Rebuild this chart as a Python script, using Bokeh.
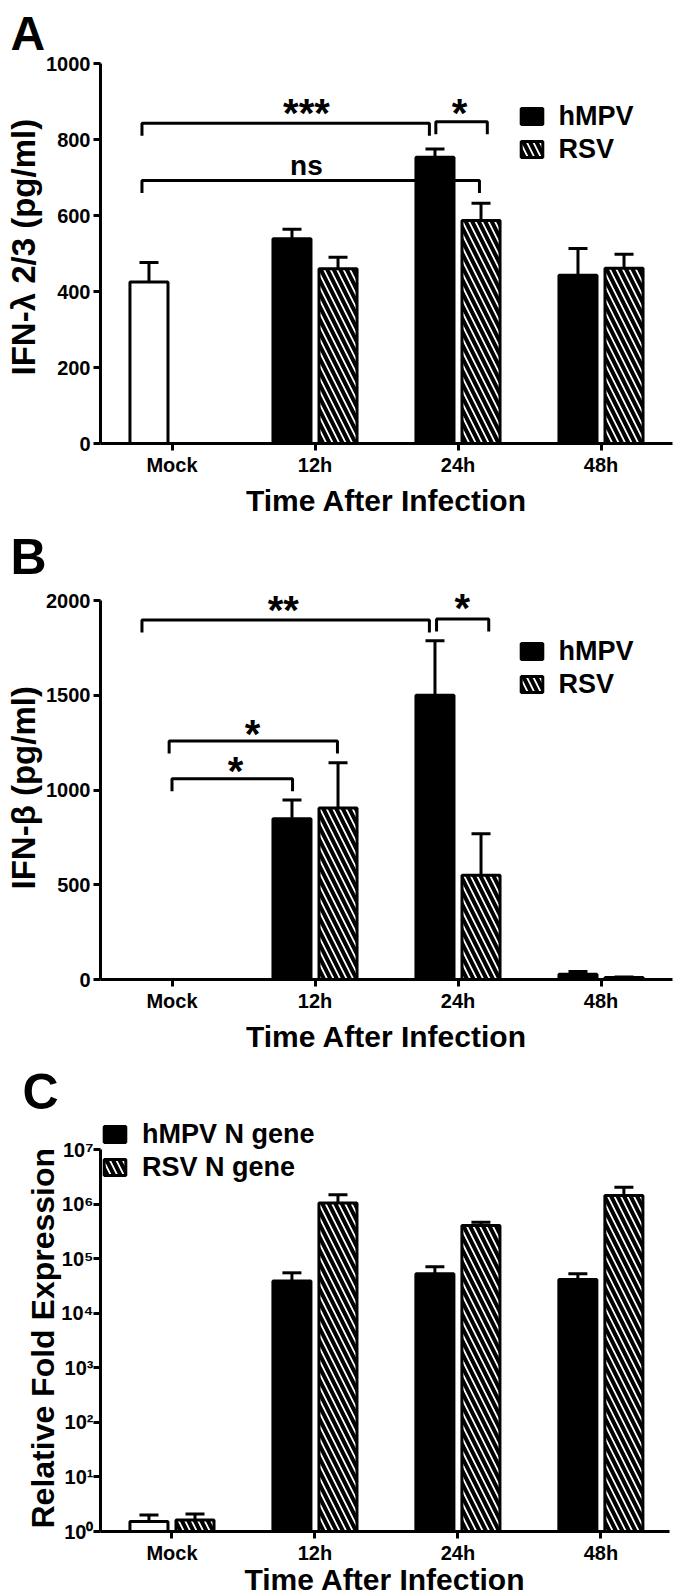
import numpy as np
from bokeh.plotting import figure
from bokeh.models import (ColumnDataSource, Whisker, TeeHead, FixedTicker, Legend,
                          LegendItem, Title, Range1d, CustomJSTickFormatter)
from bokeh.layouts import column
from bokeh.core.properties import value
from bokeh.embed import file_html
from bokeh.resources import INLINE

FONT = "Liberation Sans"

# ---------------- data ----------------
groups = ["Mock", "12h", "24h", "48h"]

# Panel A : IFN-lambda 2/3 (pg/ml)
a_mock_mean = [425]
a_mock_sem = [51]
a_hmpv_mean = [539, 753, 443]
a_hmpv_sem = [25, 22, 70]
a_rsv_mean = [460, 587, 461]
a_rsv_sem = [30, 45, 37]
a_yticks = [0, 200, 400, 600, 800, 1000]
a_sig_labels = ["***", "ns", "*"]
a_sig_left = [-0.21, -0.21, 1.845]
a_sig_right = [1.80, 2.15, 2.205]
a_sig_level = [843, 692, 847]
a_sig_text_x = [0.94, 0.94, 2.01]
a_sig_text_y = [871, 732, 869]

# Panel B : IFN-beta (pg/ml)
b_hmpv_mean = [848, 1500, 28]
b_hmpv_sem = [99, 288, 14]
b_rsv_mean = [905, 550, 10]
b_rsv_sem = [239, 219, 3]
b_yticks = [0, 500, 1000, 1500, 2000]
b_sig_labels = ["**", "*", "*", "*"]
b_sig_left = [-0.21, 1.85, -0.02, 0.0]
b_sig_right = [1.80, 2.215, 1.157, 0.843]
b_sig_level = [1897, 1903, 1259, 1060]
b_sig_text_x = [0.778, 2.03, 0.563, 0.444]
b_sig_text_y = [1950, 1963, 1297, 1100]

# Panel C : Relative fold expression (log)
c_mock_mean = [1.52, 1.63]
c_mock_sem = [0.48, 0.47]
c_hmpv_mean = [39000, 53000, 41500]
c_hmpv_sem = [16000, 18000, 11500]
c_rsv_mean = [1.05e6, 4.03e5, 1.44e6]
c_rsv_sem = [0.43e6, 0.63e5, 0.60e6]
c_yticks = [1, 10, 100, 1000, 10000, 100000, 1000000, 10000000]
c_ytick_labels = ["10\u2070", "10\u00b9", "10\u00b2", "10\u00b3", "10\u2074",
                  "10\u2075", "10\u2076", "10\u2077"]

OFF = 0.161
BW = 0.266
HATCH = dict(hatch_pattern="left_diagonal_line", hatch_color="black",
             hatch_weight=4, hatch_scale=13)


def make_fig(x_end, fw, fh, yrange, left, right, top, bottom, log=False):
    kw = dict(y_axis_type="log") if log else {}
    p = figure(frame_width=fw, frame_height=fh, x_range=Range1d(-0.5, x_end),
               y_range=Range1d(*yrange), output_backend="svg", toolbar_location=None,
               min_border_left=left, min_border_right=right, min_border_top=top,
               min_border_bottom=bottom, **kw)
    p.outline_line_color = None
    p.xgrid.visible = False
    p.ygrid.visible = False
    p.background_fill_color = "white"
    p.border_fill_color = "white"
    for ax in (p.xaxis[0], p.yaxis[0]):
        ax.axis_line_width = 3
        ax.axis_line_color = "black"
        ax.major_tick_line_width = 3
        ax.major_tick_line_color = "black"
        ax.major_tick_out = 7
        ax.major_tick_in = 0
        ax.minor_tick_line_color = None
        ax.major_label_text_font = FONT
        ax.major_label_text_font_style = "bold"
        ax.major_label_text_font_size = "20px"
        ax.major_label_text_color = "black"
        ax.major_label_standoff = 3
        ax.axis_label_text_font = FONT
        ax.axis_label_text_font_style = "bold"
        ax.axis_label_text_color = "black"
    p.xaxis.ticker = FixedTicker(ticks=list(range(len(groups))))
    p.xaxis.major_label_overrides = {i: g for i, g in enumerate(groups)}
    p.xaxis.axis_label = "Time After Infection"
    p.xaxis.axis_label_text_font_size = "30px"
    p.xaxis.axis_label_standoff = 5
    return p


def add_letter(p, letter, size, offset, standoff):
    p.title.text = letter
    p.title.align = "left"
    p.title.offset = offset
    p.title.standoff = standoff
    p.title.vertical_align = "bottom"
    p.title.text_font = FONT
    p.title.text_font_style = "bold"
    p.title.text_font_size = size
    p.title.text_color = "black"


def add_ylabel(p, text, size, offset, standoff):
    p.add_layout(Title(text=text, align="left", offset=offset, standoff=standoff,
                       vertical_align="bottom", text_font=FONT, text_font_style="bold",
                       text_font_size=size, text_color="black"), "left")


def add_bars(p, xs, means, sems, base, fill, hatch=False):
    xs = list(xs)
    means = list(means)
    upper = [m + s for m, s in zip(means, sems)]
    src = ColumnDataSource(dict(x=xs, top=means, upper=upper))
    extra = HATCH if hatch else {}
    r = p.vbar(x="x", top="top", bottom=base, width=BW, source=src, fill_color=fill,
               line_color="black", line_width=3, **extra)
    w = Whisker(base="x", lower="top", upper="upper", source=src, dimension="height",
                line_width=3, line_color="black", lower_head=None,
                upper_head=TeeHead(size=19, line_width=3, line_color="black"))
    p.add_layout(w)
    return r


def add_brackets(p, left, right, level, leg, labels, tx, ty):
    xs, ys = [], []
    for l, r, y in zip(left, right, level):
        xs.append([l, l, r, r])
        ys.append([y - leg, y, y, y - leg])
    p.multi_line(xs, ys, line_color="black", line_width=3)
    sizes = ["28px" if t == "ns" else "40px" for t in labels]
    src = ColumnDataSource(dict(x=tx, y=ty, t=labels, s=sizes))
    p.text(x="x", y="y", text="t", source=src, text_font=value(FONT),
           text_font_style="bold", text_font_size="s", text_align="center",
           text_baseline="alphabetic", text_color="black")


def add_legend(p, items, loc):
    lg = Legend(items=[LegendItem(label=t, renderers=[r]) for t, r in items],
                location=loc, glyph_width=27, glyph_height=20, label_standoff=14,
                spacing=2, padding=0, margin=0, border_line_color=None,
                background_fill_alpha=0, label_text_font=FONT,
                label_text_font_style="bold", label_text_font_size="27px",
                label_text_color="black")
    p.add_layout(lg)


idx = np.arange(1, len(groups))

# ---------------- Panel A ----------------
pA = make_fig(3.5, 572, 380, (0, 1000), 98, 3, 62, 78)
pA.yaxis.ticker = FixedTicker(ticks=a_yticks)
add_letter(pA, "A", "48px", -90, 8)
add_ylabel(pA, "IFN-\u03bb 2/3 (pg/ml)", "33px", 68, 4)
add_brackets(pA, a_sig_left, a_sig_right, a_sig_level, 33, a_sig_labels, a_sig_text_x, a_sig_text_y)
add_bars(pA, [0 - OFF], a_mock_mean, a_mock_sem, 0, "white")
rA1 = add_bars(pA, idx - OFF, a_hmpv_mean, a_hmpv_sem, 0, "black")
rA2 = add_bars(pA, idx + OFF, a_rsv_mean, a_rsv_sem, 0, "white", hatch=True)
add_legend(pA, [("hMPV", rA1), ("RSV", rA2)], (417.5, 278.5))

# ---------------- Panel B ----------------
B_FRAME_H = 395
B_PX_PER_UNIT = 379 / 2000.0
pB = make_fig(3.5, 572, B_FRAME_H, (0, B_FRAME_H / B_PX_PER_UNIT), 98, 3, 63, 82)
pB.yaxis.ticker = FixedTicker(ticks=b_yticks)
pB.yaxis.bounds = (b_yticks[0], b_yticks[-1])
add_letter(pB, "B", "50px", -90, 0)
add_ylabel(pB, "IFN-\u03b2 (pg/ml)", "33px", 90, 4)
add_brackets(pB, b_sig_left, b_sig_right, b_sig_level, 66, b_sig_labels, b_sig_text_x, b_sig_text_y)
rB1 = add_bars(pB, idx - OFF, b_hmpv_mean, b_hmpv_sem, 0, "black")
rB2 = add_bars(pB, idx + OFF, b_rsv_mean, b_rsv_sem, 0, "white", hatch=True)
add_legend(pB, [("hMPV", rB1), ("RSV", rB2)], (417.5, 279.5))

# ---------------- Panel C ----------------
C_FRAME_H = 412
C_DECADE_PX = 382 / 7.0
pC = make_fig(3.48, 569, C_FRAME_H, (1, 10 ** (C_FRAME_H / C_DECADE_PX)), 86, 18, 58, 65, log=True)
pC.yaxis.ticker = FixedTicker(ticks=c_yticks)
pC.yaxis.bounds = (c_yticks[0], c_yticks[-1])
pC.yaxis.formatter = CustomJSTickFormatter(
    args=dict(tvals=c_yticks, tlabels=c_ytick_labels),
    code="""
    for (let i = 0; i < tvals.length; i++) {
        if (Math.abs(Math.log10(tvals[i]) - Math.log10(tick)) < 1e-6) { return tlabels[i]; }
    }
    return "";
    """)
pC.yaxis.major_label_standoff = 0
pC.xaxis.axis_label_standoff = -4
add_letter(pC, "C", "50px", -78, 0)
add_ylabel(pC, "Relative Fold Expression", "32px", 3, -5)
add_bars(pC, [0 - OFF], c_mock_mean[:1], c_mock_sem[:1], 1, "white")
add_bars(pC, [0 + OFF], c_mock_mean[1:], c_mock_sem[1:], 1, "white", hatch=True)
rC1 = add_bars(pC, idx - OFF, c_hmpv_mean, c_hmpv_sem, 1, "black")
rC2 = add_bars(pC, idx + OFF, c_rsv_mean, c_rsv_sem, 1, "white", hatch=True)
add_legend(pC, [("hMPV N gene", rC1), ("RSV N gene", rC2)], (1, 348.5))

layout = column(pA, pB, pC, spacing=0)
open("out.html", "w").write(file_html(layout, INLINE))
